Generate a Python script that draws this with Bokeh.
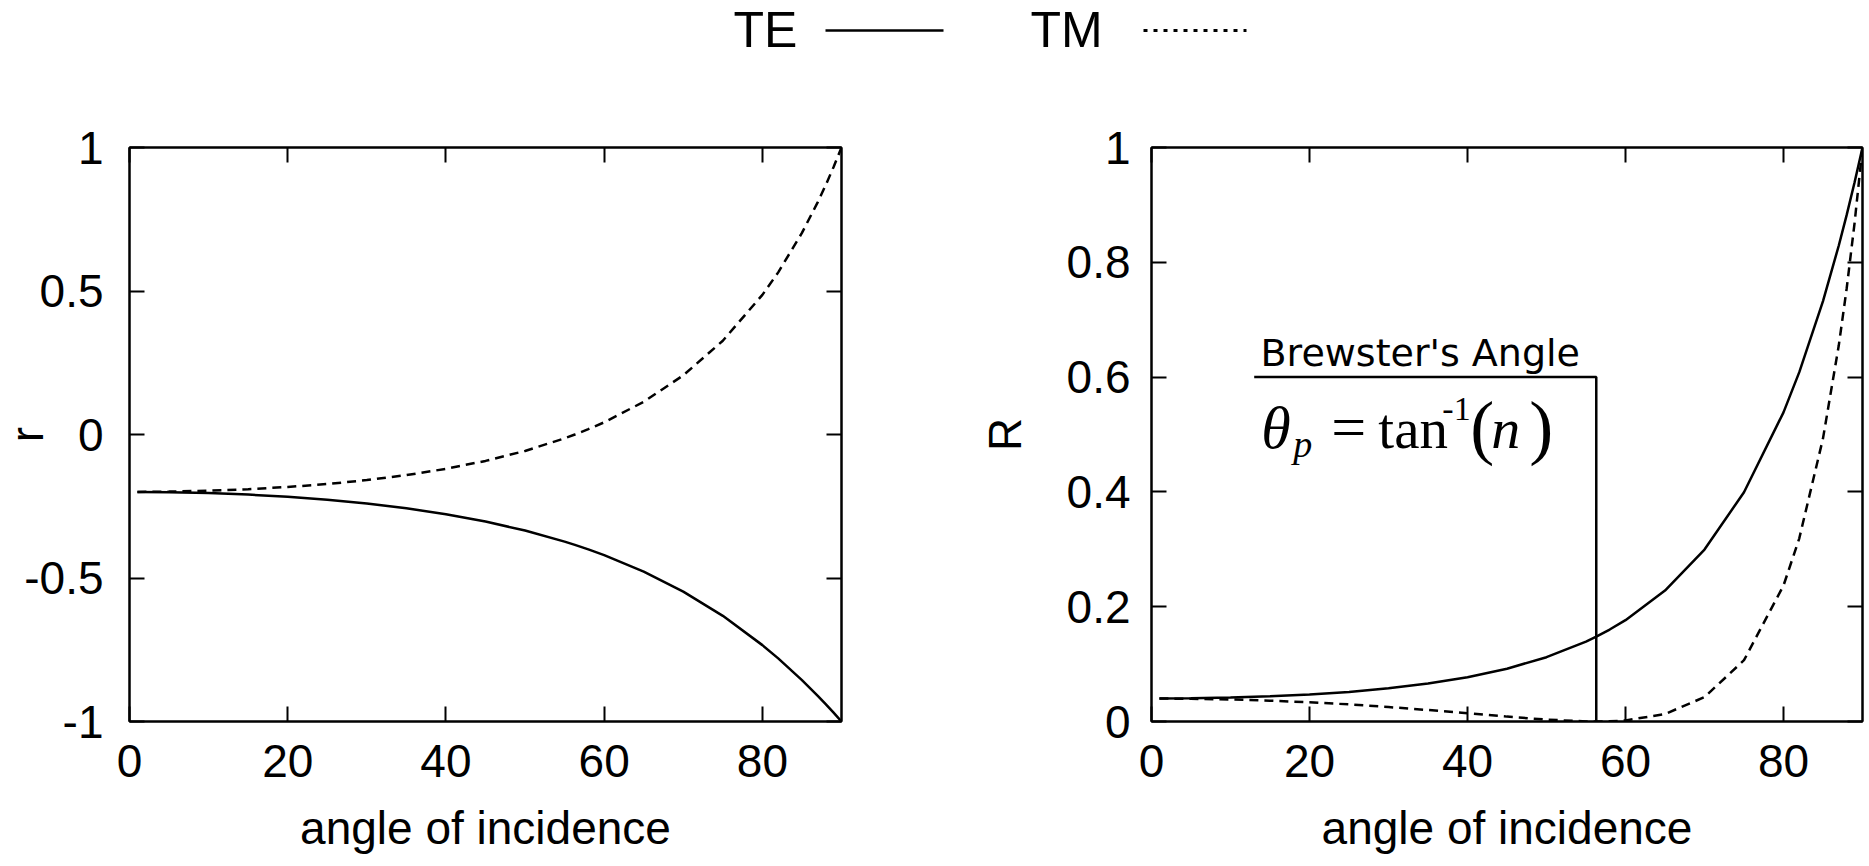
from bokeh.plotting import figure
from bokeh.layouts import column, row
from bokeh.models import Range1d, FixedTicker, LinearAxis, CustomJSTickFormatter, Label
from bokeh.core.properties import value
from bokeh.embed import file_html
from bokeh.resources import INLINE

# ---------------- data ----------------
angle = [1, 5, 10, 15, 20, 25, 30, 35, 40, 45, 50, 55, 56.3, 58, 60, 65, 70, 75, 80, 82, 85, 87, 88, 89, 90]
r_te = [-0.2000, -0.2010, -0.2041, -0.2094, -0.2170, -0.2272, -0.2404, -0.2571, -0.2778, -0.3033,
        -0.3347, -0.3732, -0.3846, -0.4003, -0.4202, -0.4776, -0.5474, -0.6319, -0.7339, -0.7801,
        -0.8558, -0.9107, -0.9395, -0.9693, -1.0]
r_tm = [-0.2000, -0.1990, -0.1959, -0.1906, -0.1829, -0.1725, -0.1589, -0.1416, -0.1196, -0.0920,
        -0.0573, -0.0133, 0.0, 0.0185, 0.0425, 0.1139, 0.2061, 0.3268, 0.4866, 0.5650,
        0.7023, 0.8096, 0.8688, 0.9321, 1.0]
R_te = [0.0400, 0.0404, 0.0417, 0.0438, 0.0471, 0.0516, 0.0578, 0.0661, 0.0772, 0.0920,
        0.1120, 0.1393, 0.1479, 0.1602, 0.1766, 0.2281, 0.2996, 0.3994, 0.5386, 0.6086,
        0.7324, 0.8293, 0.8826, 0.9395, 1.0]
R_tm = [0.0400, 0.0396, 0.0384, 0.0363, 0.0335, 0.0298, 0.0252, 0.0200, 0.0143, 0.0085,
        0.0033, 0.0002, 0.0, 0.0003, 0.0018, 0.0130, 0.0425, 0.1068, 0.2368, 0.3192,
        0.4932, 0.6554, 0.7548, 0.8688, 1.0]

x_ticks = [0, 20, 40, 60, 80]
r_ticks = [-1, -0.5, 0, 0.5, 1]
R_ticks = [0, 0.2, 0.4, 0.6, 0.8, 1]
legend_labels = ["TE", "TM"]
x_label = "angle of incidence"
brewster_angle = 56.3
brewster_level = 0.6
brewster_bar_start = 13
brewster_title = "Brewster's Angle"

FONT = "Liberation Sans"
SERIF = "Liberation Serif"
TICK_SIZE = "46px"
TOP_H = 78
PAD = 40   # hidden strip at the left of the first panel (negative margin)


def style_axis(ax, ticks, show_labels, standoff=0):
    ax.ticker = FixedTicker(ticks=ticks)
    ax.major_tick_in = 15
    ax.major_tick_out = 0
    ax.minor_tick_in = 0
    ax.minor_tick_out = 0
    ax.axis_line_width = 2
    ax.major_tick_line_width = 2
    ax.axis_line_color = "black"
    ax.major_tick_line_color = "black"
    if show_labels:
        ax.formatter = CustomJSTickFormatter(code="return tick.toString();")
        ax.major_label_text_font = FONT
        ax.major_label_text_font_size = TICK_SIZE
        ax.major_label_text_color = "black"
        ax.major_label_standoff = standoff
    else:
        ax.formatter = CustomJSTickFormatter(code="return '';")
        ax.major_label_text_font_size = "1px"
        ax.major_label_standoff = 0


def make_panel(width, left, right, yr, yticks, ylabel, y_tick_standoff, y_label_standoff, margin):
    p = figure(width=width, height=783, x_range=Range1d(0, 90), y_range=Range1d(*yr),
               output_backend="svg", toolbar_location=None, margin=margin,
               min_border_left=left, min_border_right=right,
               min_border_top=147 - TOP_H, min_border_bottom=783 - (147 - TOP_H) - 574)
    p.grid.visible = False
    p.outline_line_color = "black"
    p.outline_line_width = 2
    p.background_fill_color = "white"
    p.border_fill_color = "white"

    xb = p.xaxis[0]
    yl = p.yaxis[0]
    style_axis(xb, x_ticks, True, 23)
    style_axis(yl, yticks, True, y_tick_standoff)
    xb.axis_label = x_label
    yl.axis_label = ylabel
    for ax, st in ((xb, 22), (yl, y_label_standoff)):
        ax.axis_label_text_font = FONT
        ax.axis_label_text_font_size = TICK_SIZE
        ax.axis_label_text_font_style = "normal"
        ax.axis_label_text_color = "black"
        ax.axis_label_standoff = st

    xt = LinearAxis()
    style_axis(xt, x_ticks, False)
    p.add_layout(xt, "above")
    yr_ax = LinearAxis()
    style_axis(yr_ax, yticks, False)
    p.add_layout(yr_ax, "right")
    return p


# ---------------- left panel: r ----------------
p1 = make_panel(941 + PAD, 129 + PAD, 100, (-1, 1), r_ticks, "r", 26, -32, (0, 0, 0, -PAD))
p1.line(angle, r_te, line_color="black", line_width=2.5)
p1.line(angle, r_tm, line_color="black", line_width=2.5, line_dash="9 6")

# ---------------- right panel: R ----------------
p2 = make_panel(926, 210, 5, (0, 1), R_ticks, "R", 21, 33, (0, 0, 0, 0))
p2.line(angle, R_te, line_color="black", line_width=2.5)
p2.line(angle, R_tm, line_color="black", line_width=2.5, line_dash="9 6")
p2.line([brewster_bar_start, brewster_angle, brewster_angle],
        [brewster_level, brewster_level, 0], line_color="black", line_width=2.5)

p2.add_layout(Label(x=13.8, y=0.6425, text=brewster_title, text_font="DejaVu Sans",
                    text_font_size="38px", text_baseline="alphabetic", text_align="left",
                    text_color="black"))

formula_parts = [
    ("θ", 0, 0, "italic", 60),
    ("p", 32, -9, "italic", 38),
    ("=", 70, 0, "normal", 62),
    ("tan", 117, 0, "normal", 57),
    ("-1", 181, 27, "normal", 34),
    ("(", 209, -3, "normal", 72),
    ("n", 230, 0, "italic", 58),
    (")", 268, -3, "normal", 72),
]
for txt, dx, dy, style, size in formula_parts:
    p2.add_layout(Label(x=13.9, y=0.48, x_offset=dx, y_offset=dy + 0.3 * size, text=txt,
                        text_font=SERIF, text_font_style=style, text_font_size=f"{size}px",
                        text_baseline="alphabetic", text_align="left", text_color="black"))

# ---------------- top legend ----------------
lg = figure(width=1867, height=TOP_H, x_range=Range1d(0, 1867), y_range=Range1d(TOP_H, 0),
            output_backend="svg", toolbar_location=None, x_axis_type=None, y_axis_type=None,
            min_border=0)
lg.grid.visible = False
lg.outline_line_color = None
lg.text(x=[733, 1030], y=[29, 29], text=legend_labels, text_font=value(FONT),
        text_font_size="50px", text_baseline="middle", text_align="left", text_color="black")
lg.line([825, 943], [30, 30], line_color="black", line_width=2.5)
lg.line([1143, 1246], [30, 30], line_color="black", line_width=3, line_dash="4 6")

layout = column(lg, row(p1, p2))
open("out.html", "w").write(file_html(layout, INLINE))
